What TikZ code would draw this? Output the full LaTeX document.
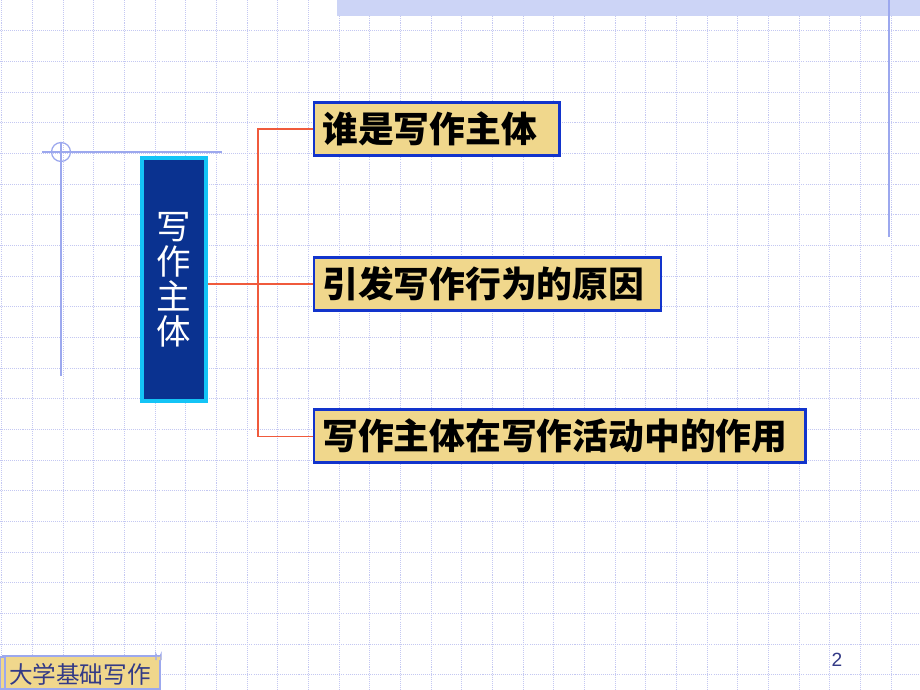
\documentclass[tikz,border=0pt]{standalone}
\usepackage{fontspec}
\setmainfont{Liberation Sans}
\newfontfamily\cjk{Noto Sans CJK SC}
\usetikzlibrary{positioning}
\definecolor{gridblue}{HTML}{C4C8F2}
\definecolor{bandblue}{HTML}{CCD4F6}
\definecolor{lineblue}{HTML}{9CA8EE}
\definecolor{boxblue}{HTML}{0A3290}
\definecolor{boxcyan}{HTML}{14C4F6}
\definecolor{tan}{HTML}{F0D78C}
\definecolor{tanedge}{HTML}{1234CC}
\definecolor{linkred}{HTML}{F05A3C}
\definecolor{footblue}{HTML}{333A86}
\tikzstyle{topic} = [rectangle, draw=boxcyan, line width=3pt, fill=boxblue, minimum width=50pt, minimum height=190pt, text=white, align=center, font=\cjk\fontsize{27}{27.4}\selectfont]
\tikzstyle{item} = [rectangle, draw=tanedge, line width=2.3pt, fill=tan, minimum height=41.5pt, inner xsep=6.5pt, align=left, font=\cjk\bfseries\fontsize{28}{30}\selectfont]
\tikzstyle{link} = [draw=linkred, line width=0.8pt]
\tikzstyle{gridline} = [gridblue, line width=0.6pt, dash pattern=on 0.8pt off 0.8pt]
\begin{document}
\begin{tikzpicture}[x=0.7826pt, y=-0.7826pt]
		\useasboundingbox (0,0) rectangle (920,690);
		\fill[white] (0,0) rectangle (920,690);
		% grid
		\foreach \k in {0,...,29}
			\draw[gridline] (1.7+\k*30.67,0) -- (1.7+\k*30.67,690);
		\foreach \k in {1,...,22}
			\draw[gridline] (0,\k*30.67) -- (920,\k*30.67);
		\fill[bandblue] (337,0) rectangle (920,16);
		\draw[lineblue, line width=1.2pt] (889,0) -- (889,237);
		\draw[lineblue, line width=1.2pt] (42,152) -- (222,152);
		\draw[lineblue, line width=1.2pt] (61,143) -- (61,376);
		\draw[lineblue, line width=1pt] (61,152) circle (9.5);
		% topic and items
		\node (Topic) [topic] at (174,279.5) {写\\作\\主\\体};
		\node (Who) [item, text width=179.5pt, anchor=west] at (312.5,129) {谁是写作主体};
		\node (Cause) [item, text width=258.6pt, below = 121.3pt of Who.west, anchor=west] {引发写作行为的原因};
		\node (Role) [item, text width=372pt, below = 119pt of Cause.west, anchor=west] {写作主体在写作活动中的作用};
		\coordinate (Trunk) at (258,0);
		\draw [link] (Cause.west -| Topic.east) -- (Cause.west);
		\draw [link] (Who.west) -| (Trunk |- Role.west) -- (Role.west);
		% footer
		\draw[lineblue, line width=0.8pt, fill=tan] (3,656) rectangle (160,689);
		\draw[lineblue, line width=0.8pt, fill=tan] (0,657) rectangle (5,689);
		\draw[lineblue, line width=0.8pt, fill=tan] (156,660) -- (156,654) arc (180:0:2.5) -- (161,660);
		\node (Course) [text=footblue, font=\cjk\fontsize{18.5}{20}\selectfont, inner sep=0pt] at (80,674) {大学基础写作};
		\node (PageNo) [text=footblue, font=\fontsize{15}{18}\selectfont, inner sep=0pt] at (837,660) {2};
\end{tikzpicture}
\end{document}
